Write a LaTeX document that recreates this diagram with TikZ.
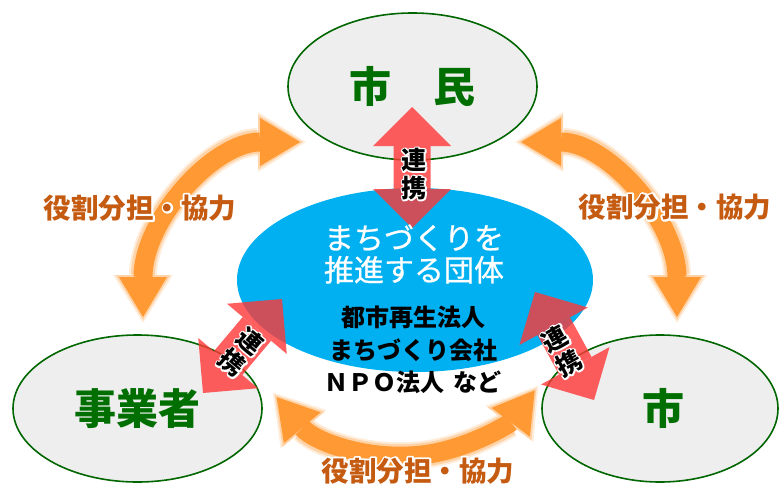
\documentclass[tikz,border=0pt]{standalone}
\usepackage{fontspec}
\setmainfont{Noto Sans CJK JP}
\newfontfamily\jpmed{Noto Sans CJK JP}[FakeBold=0.7]
\usetikzlibrary{shapes.geometric,arrows.meta,calc}
\definecolor{ellfill}{HTML}{EEEEEE}
\definecolor{ellline}{HTML}{006600}
\definecolor{greentext}{HTML}{006E00}
\definecolor{blueell}{HTML}{00B0F0}
\definecolor{redarr}{HTML}{FF3737}
\definecolor{orarr}{HTML}{FF9933}
\definecolor{orglowA}{HTML}{FFEDDC}
\definecolor{orglowB}{HTML}{FFD3A8}
\definecolor{ortext}{HTML}{C55A11}
% text with a white outline, in one box
\newcommand{\outlined}[2]{%
  \makebox[0pt][l]{\special{pdf:literal direct #1 w 1 j 1 Tr}\textcolor{white}{#2}\special{pdf:literal direct 0 Tr}}#2}
\tikzset{
  party/.style={ellipse, draw=ellline, line width=1.6pt, fill=ellfill, inner sep=0pt, outer sep=0pt,
    text=greentext, font=\fontsize{42}{44}\selectfont\bfseries},
  hub/.style={ellipse, fill=blueell, inner sep=0pt, outer sep=0pt, minimum width=356pt, minimum height=184pt},
  hubtitle/.style={text=white, align=center, font=\fontsize{30}{32}\selectfont\jpmed},
  hubmembers/.style={text=black, align=center, font=\fontsize{24}{32.5}\selectfont\bfseries},
  linktip/.tip={Triangle[width=78pt,length=39pt,line width=0pt]},
  linkarrow/.style={draw=redarr, line width=37pt, linktip-linktip},
  linklabel/.style={text=black, align=center, inner sep=0pt, font=\fontsize{25}{28}\selectfont\bfseries},
  roletip/.tip={Triangle[width=48pt,length=40pt,line width=0pt]},
  glowtipA/.tip={Triangle[width=60pt,length=48pt,line width=0pt]},
  glowtipB/.tip={Triangle[width=55pt,length=45pt,line width=0pt]},
  rolearrow/.style={draw=orarr, line width=19pt, roletip-roletip},
  roleglowA/.style={draw=orglowA, line width=28pt, glowtipA-glowtipA, shorten <=-6pt, shorten >=-6pt},
  roleglowB/.style={draw=orglowB, line width=24pt, glowtipB-glowtipB, shorten <=-3pt, shorten >=-3pt},
  rolelabel/.style={text=ortext, inner sep=0pt, font=\fontsize{27.5}{30}\selectfont\bfseries}
}
\begin{document}
\begin{tikzpicture}[x=1pt,y=-1pt]
\useasboundingbox (0,0) rectangle (779,487);
% parties
\node[party, minimum width=249pt, minimum height=147pt] (shimin) at (412.5,86.5) {市　民};
\node[party, minimum width=249pt, minimum height=147pt] (jigyo) at (137.5,408.5) {事業者};
\node[party, minimum width=236pt, minimum height=147pt] (shi) at (660,408.5) {\hspace{6pt}市};
% hub
\node[hub] (hub) at (415,280) {};
% role arrows (orange)
\coordinate (tlA) at (300,142);
\coordinate (trA) at (521,142);
\coordinate (bA) at (276.6,397.1);
\foreach \s in {roleglowA,roleglowB,rolearrow}{
  \draw[\s] (tlA) arc[start angle=270, end angle=180, x radius=157, y radius=175];
  \draw[\s] (trA) arc[start angle=270, end angle=360, x radius=156, y radius=175];
  \draw[\s] (bA) arc[start angle=140, end angle=37, radius=165];
}
% link arrows (red)
\coordinate (t1) at (412,107); \coordinate (t2) at (412,228);
\coordinate (l1) at (203,393); \coordinate (l2) at (282,299);
\coordinate (r1) at (535,292); \coordinate (r2) at (594,400);
\begin{scope}[transparency group, opacity=0.8]
  \draw[linkarrow] (t1) -- (t2);
\end{scope}
\begin{scope}[transparency group, opacity=0.8]
  \draw[linkarrow] (l1) -- (l2);
\end{scope}
\begin{scope}[transparency group, opacity=0.8]
  \draw[linkarrow] (r1) -- (r2);
\end{scope}
% hub texts
\node[hubtitle] (title) at (414,254) {まちづくりを\\推進する団体};
\node[hubmembers] (members) at (413,350) {都市再生法人\\まちづくり会社\\ＮＰＯ法人\hspace{0.35em}など};
% link labels
\node[linklabel] (lt) at (414,174) {\outlined{3}{連}\\\outlined{3}{携}};
\node[linklabel, rotate=-40] (ll) at (241,352) {\outlined{3}{連}\\\outlined{3}{携}};
\node[linklabel, rotate=29] (lr) at (562,351) {\outlined{3}{連}\\\outlined{3}{携}};
% role labels
\node[rolelabel] (roleL) at (140,208) {\outlined{4}{役割分担・協力}};
\node[rolelabel] (roleR) at (675,207) {\outlined{4}{役割分担・協力}};
\node[rolelabel] (roleB) at (418,471) {\outlined{4}{役割分担・協力}};
\end{tikzpicture}
\end{document}
